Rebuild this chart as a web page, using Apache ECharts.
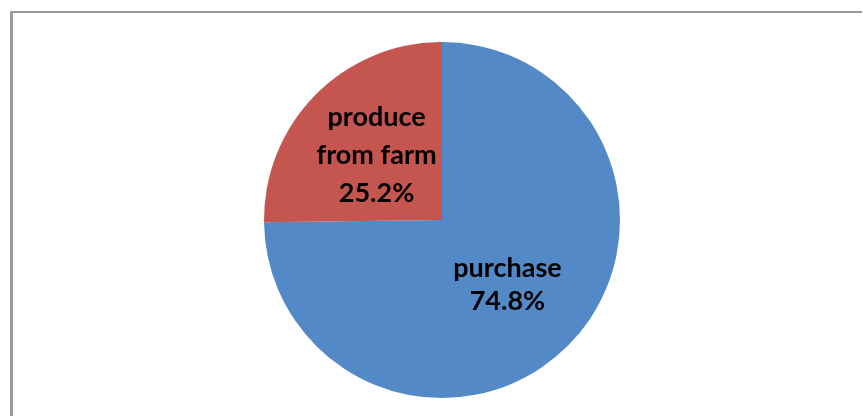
<!DOCTYPE html>
<html>
<head>
<meta charset="utf-8">
<script src="https://cdn.jsdelivr.net/npm/echarts@6/dist/echarts.min.js"></script>
<style>
html,body{margin:0;padding:0;background:#fff;}
#chart{width:863px;height:416px;}
</style>
</head>
<body>
<div id="chart"></div>
<script>
const categories = ['purchase', 'produce\nfrom farm'];
const values = [74.8, 25.2];
const colors = ['#5289C6', '#C4554F'];
const lineHeights = [33, 38];

const chart = echarts.init(document.getElementById('chart'), null, {renderer: 'canvas'});
chart.setOption({
  backgroundColor: '#ffffff',
  animation: false,
  graphic: [
    {type: 'line', shape: {x1: 11, y1: 12, x2: 862, y2: 12}, style: {stroke: '#9a9a9a', lineWidth: 2}},
    {type: 'line', shape: {x1: 11.5, y1: 11, x2: 11.5, y2: 416}, style: {stroke: '#9a9a9a', lineWidth: 3}}
  ],
  series: [{
    type: 'pie',
    center: [442, 220],
    radius: [0, 178],
    startAngle: 90,
    clockwise: true,
    data: categories.map((c, i) => ({
      name: c, value: values[i],
      itemStyle: {color: colors[i]},
      label: {lineHeight: lineHeights[i]}
    })),
    label: {
      show: true,
      position: 'inside',
      formatter: p => p.name + '\n' + p.value.toFixed(1) + '%',
      fontFamily: 'Lato',
      fontWeight: 'bold',
      fontSize: 27,
      color: '#000'
    },
    labelLine: {show: false},
    emphasis: {disabled: true}
  }]
});
</script>
</body>
</html>
